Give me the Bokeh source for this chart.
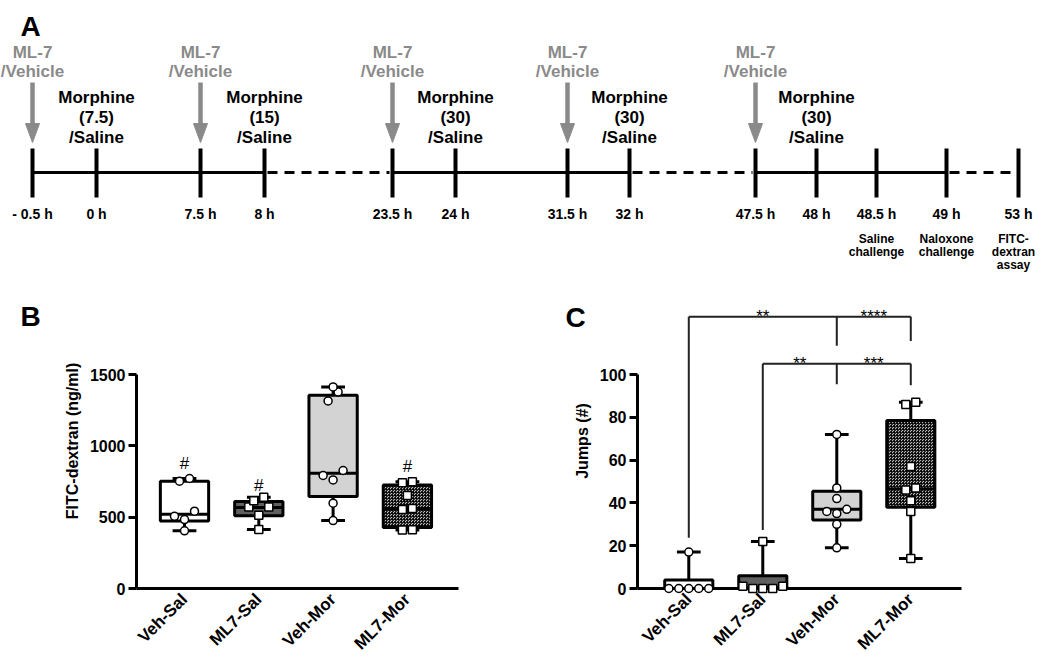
import math
from bokeh.plotting import figure
from bokeh.layouts import column, row
from bokeh.models import Range1d, FixedTicker
from bokeh.core.properties import value
from bokeh.embed import file_html
from bokeh.resources import INLINE

FONT = "Liberation Sans"

# ---------------- data ----------------
groups = ["Veh-Sal", "ML7-Sal", "Veh-Mor", "ML7-Mor"]
group_markers = ["circle", "square", "circle", "square"]

# Panel B: FITC-dextran (ng/ml)
fitc_veh_sal = [404, 483, 506, 542, 752, 771]
fitc_ml7_sal = [413, 514, 572, 572, 615, 640]
fitc_veh_mor = [476, 598, 761, 792, 827, 1315, 1378, 1413]
fitc_ml7_mor = [410, 412, 553, 560, 652, 742, 748]
fitc_min = [404, 413, 476, 410]
fitc_q1 = [473, 510, 645, 428]
fitc_median = [520, 568, 808, 560]
fitc_q3 = [752, 610, 1355, 725]
fitc_max = [771, 640, 1413, 748]
fitc_ticks = [0, 500, 1000, 1500]
fitc_hash_groups = [0, 1, 3]
fitc_hash_y = [873, 724, 857]

# Panel C: jumps
jumps_veh_sal = [0, 0, 0, 0, 0, 17]
jumps_ml7_sal = [0, 0, 0, 1, 1, 22]
jumps_veh_mor = [19, 30, 35, 36, 37, 42, 47, 72]
jumps_ml7_mor = [14, 36, 41, 46, 47, 57, 86, 87]
jumps_min = [0, 0, 19, 14]
jumps_q1 = [0, 0, 32, 38]
jumps_median = [0, 0.5, 37, 46.5]
jumps_q3 = [4, 6, 45.5, 78.5]
jumps_max = [17, 22, 72, 87]
jumps_ticks = [0, 20, 40, 60, 80, 100]
br_groups = [[0, 2, 3], [1, 2, 3]]
br_y = [127, 105]
br_leg_end = [[23.7, 113.4, 115.6], [27.3, 95.5, 95.0]]
br_stars = [["**", "****"], ["**", "***"]]

# Panel A: timeline
tl_labels = ["- 0.5 h", "0 h", "7.5 h", "8 h", "23.5 h", "24 h", "31.5 h", "32 h",
             "47.5 h", "48 h", "48.5 h", "49 h", "53 h"]
tl_dashed_after = [3, 7, 11]
ml7_idx = [0, 2, 4, 6, 8]
mor_idx = [1, 3, 5, 7, 9]
mor_dose = ["(7.5)", "(15)", "(30)", "(30)", "(30)"]
event_idx = [10, 11, 12]
event_text = [["Saline", "challenge"], ["Naloxone", "challenge"], ["FITC-", "dextran", "assay"]]

# ---------------- layout constants (pixels) ----------------
tl_x = [32, 96, 200, 264, 392, 455, 567, 629, 755, 816, 876, 946, 1018]
LINE_Y, TICK_TOP, TICK_BOT = 172, 148, 197
GRAY = "#8a8a8a"

W, H = 1050, 666
A_H = 283
ROW_H = H - A_H
PX_CAT = 74.3
BOX_W = 0.65
CAP_W = 0.16
FRAME_TOP, FRAME_BOT = 293, 588          # shared by panels B and C
ROW_T = FRAME_TOP - A_H
ROW_B = H - FRAME_BOT
FH = FRAME_BOT - FRAME_TOP


def base_fig(width, height, xr, yr, **kw):
    p = figure(width=width, height=height, x_range=xr, y_range=yr,
               output_backend="svg", toolbar_location=None, **kw)
    p.xgrid.visible = False
    p.ygrid.visible = False
    p.outline_line_color = None
    p.background_fill_color = "white"
    p.border_fill_color = "white"
    return p


def panel_letter(p, x, y, letter):
    p.text(x=[x], y=[y], text=[letter], text_font=value(FONT), text_font_style="bold",
           text_font_size="28px", text_color="black", text_align="left",
           text_baseline="alphabetic", level="overlay")


# ---------------- Panel A ----------------
pa = base_fig(W, A_H, Range1d(0, W), Range1d(A_H, 0),
              x_axis_type=None, y_axis_type=None,
              min_border_left=0, min_border_right=0, min_border_top=0, min_border_bottom=0)

sx0, sx1, dx0, dx1 = [], [], [], []
for i in range(len(tl_x) - 1):
    if i in tl_dashed_after:
        dx0.append(tl_x[i] + 3); dx1.append(tl_x[i + 1] - 3)
    else:
        sx0.append(tl_x[i]); sx1.append(tl_x[i + 1])
pa.segment(x0=sx0, x1=sx1, y0=[LINE_Y] * len(sx0), y1=[LINE_Y] * len(sx0),
           line_color="black", line_width=3)
pa.segment(x0=dx0, x1=dx1, y0=[LINE_Y] * len(dx0), y1=[LINE_Y] * len(dx0),
           line_color="black", line_width=3, line_dash="10 7")
pa.segment(x0=tl_x, x1=tl_x, y0=[TICK_TOP] * len(tl_x), y1=[TICK_BOT] * len(tl_x),
           line_color="black", line_width=4)

txt = dict(text_font=value(FONT), text_font_style="bold", text_align="center",
           text_baseline="middle")
pa.text(x=tl_x, y=[213] * len(tl_x), text=tl_labels, text_font_size="14px", **txt)

ax = [tl_x[i] for i in ml7_idx]
pa.text(x=ax, y=[52] * len(ax), text=["ML-7"] * len(ax), text_font_size="17px",
        text_color=GRAY, **txt)
pa.text(x=ax, y=[71] * len(ax), text=["/Vehicle"] * len(ax), text_font_size="17px",
        text_color=GRAY, **txt)
pa.segment(x0=ax, x1=ax, y0=[82] * len(ax), y1=[126] * len(ax), line_color=GRAY, line_width=4.5)
pa.patches(xs=[[x - 7, x + 7, x] for x in ax], ys=[[123, 123, 142] for _ in ax],
           fill_color=GRAY, line_color=GRAY, line_width=1)

mx = [tl_x[i] for i in mor_idx]
pa.text(x=mx, y=[97] * len(mx), text=["Morphine"] * len(mx), text_font_size="17px", **txt)
pa.text(x=mx, y=[117] * len(mx), text=mor_dose, text_font_size="17px", **txt)
pa.text(x=mx, y=[137] * len(mx), text=["/Saline"] * len(mx), text_font_size="17px", **txt)

for i, lines in zip(event_idx, event_text):
    x = tl_x[i] - (5 if i == 12 else 0)
    pa.text(x=[x] * len(lines), y=[238 + 13 * k for k in range(len(lines))], text=lines,
            text_font_size="12px", **txt)

panel_letter(pa, 20, 26, "A")


# ---------------- box plot helpers ----------------
def swarm(vals, ppu, thr=10.0, spacing=10.0):
    order = sorted(range(len(vals)), key=lambda i: vals[i])
    bins = []
    for i in order:
        if bins and (vals[i] - vals[bins[-1][0]]) * ppu < thr:
            bins[-1].append(i)
        else:
            bins.append([i])
    offs = [0.0] * len(vals)
    for b in bins:
        n = len(b)
        if n % 2:
            slots = [0] + [s for k in range(1, n) for s in (-k, k)]
        else:
            slots = [s for k in range(n) for s in (-(k + 0.5), k + 0.5)]
        for k, i in enumerate(b):
            offs[i] = slots[k] * spacing / PX_CAT
    return offs


def style_axes(p, ticks, ylabel):
    for a in (p.xaxis[0], p.yaxis[0]):
        a.axis_line_width = 3
        a.axis_line_color = "black"
        a.major_label_text_font = FONT
        a.major_label_text_font_style = "bold"
        a.major_label_text_font_size = "16px"
        a.major_label_text_color = "black"
        a.minor_tick_line_color = None
        a.major_tick_in = 0
    p.yaxis.ticker = FixedTicker(ticks=ticks)
    p.yaxis.bounds = (ticks[0], ticks[-1])
    p.yaxis.major_tick_out = 8
    p.yaxis.major_tick_line_width = 3
    p.yaxis.major_tick_line_color = "black"
    p.yaxis.major_label_standoff = 3
    p.yaxis.axis_label = ylabel
    p.yaxis.axis_label_text_font = FONT
    p.yaxis.axis_label_text_font_style = "bold"
    p.yaxis.axis_label_text_font_size = "16px"
    p.yaxis.axis_label_text_color = "black"
    p.yaxis.axis_label_standoff = 6
    p.xaxis.ticker = FixedTicker(ticks=[0, 1, 2, 3])
    p.xaxis.major_label_overrides = {i: g for i, g in enumerate(groups)}
    p.xaxis.major_tick_line_color = None
    p.xaxis.major_tick_out = 0
    p.xaxis.major_label_orientation = math.pi / 4
    p.xaxis.major_label_text_font_size = "17px"
    p.xaxis.major_label_standoff = 8


def draw_boxes(p, series, mins, q1s, meds, q3s, maxs, ppu):
    xs = list(range(4))
    p.segment(x0=xs, x1=xs, y0=q3s, y1=maxs, line_color="black", line_width=3)
    p.segment(x0=xs, x1=xs, y0=q1s, y1=mins, line_color="black", line_width=3)
    p.segment(x0=[x - CAP_W for x in xs], x1=[x + CAP_W for x in xs], y0=maxs, y1=maxs,
              line_color="black", line_width=3)
    p.segment(x0=[x - CAP_W for x in xs], x1=[x + CAP_W for x in xs], y0=mins, y1=mins,
              line_color="black", line_width=3)
    p.vbar(x=[0, 2], width=BOX_W, bottom=[q1s[0], q1s[2]], top=[q3s[0], q3s[2]],
           fill_color=["white", "#d3d3d3"], line_color="black", line_width=3)
    p.vbar(x=[1], width=BOX_W, bottom=[q1s[1]], top=[q3s[1]],
           fill_color="#5f5f5f", line_color="black", line_width=3)
    p.vbar(x=[3], width=BOX_W, bottom=[q1s[3]], top=[q3s[3]],
           fill_color="#bcbcbc", hatch_pattern="criss_cross", hatch_color="black",
           hatch_scale=3, hatch_weight=1, hatch_alpha=0.8,
           line_color="black", line_width=3)
    p.segment(x0=[x - BOX_W / 2 for x in xs], x1=[x + BOX_W / 2 for x in xs], y0=meds, y1=meds,
              line_color="black", line_width=3)
    for gi, vals in enumerate(series):
        offs = swarm(vals, ppu)
        p.scatter(x=[gi + o for o in offs], y=vals, marker=group_markers[gi], size=8,
                  fill_color="white", line_color="black", line_width=1.5, level="overlay")


# ---------------- Panel B ----------------
B_W = 556
B_L, B_FW = 136, 322
B_R = B_W - B_L - B_FW
B_X0 = -0.646
ppu_b = 214 / 1500.0
pb = base_fig(B_W, ROW_H, Range1d(B_X0, B_X0 + B_FW / PX_CAT), Range1d(0, FH / ppu_b),
              min_border_left=B_L, min_border_right=B_R, min_border_top=ROW_T,
              min_border_bottom=ROW_B)
style_axes(pb, fitc_ticks, "FITC-dextran (ng/ml)")
draw_boxes(pb, [fitc_veh_sal, fitc_ml7_sal, fitc_veh_mor, fitc_ml7_mor],
           fitc_min, fitc_q1, fitc_median, fitc_q3, fitc_max, ppu_b)
pb.text(x=fitc_hash_groups, y=fitc_hash_y, text=["#"] * len(fitc_hash_groups),
        text_font=value(FONT), text_font_size="17px", text_align="center",
        text_baseline="middle")
panel_letter(pb, B_X0 + (20 - B_L) / PX_CAT, (FRAME_BOT - 316) / ppu_b, "B")

# ---------------- Panel C ----------------
C_W = W - B_W
C_L, C_FW = 637 - B_W, 324
C_R = C_W - C_L - C_FW
C_PX_CAT = 74.0
ppu_c = 2.14
C_X0 = -0.693
pc = base_fig(C_W, ROW_H, Range1d(C_X0, C_X0 + C_FW / C_PX_CAT), Range1d(0, FH / ppu_c),
              min_border_left=C_L, min_border_right=C_R, min_border_top=ROW_T,
              min_border_bottom=ROW_B)
style_axes(pc, jumps_ticks, "Jumps (#)")
draw_boxes(pc, [jumps_veh_sal, jumps_ml7_sal, jumps_veh_mor, jumps_ml7_mor],
           jumps_min, jumps_q1, jumps_median, jumps_q3, jumps_max, ppu_c * C_PX_CAT / PX_CAT)
for gs, yb, legs, stars in zip(br_groups, br_y, br_leg_end, br_stars):
    pc.segment(x0=[gs[0]], x1=[gs[-1]], y0=[yb], y1=[yb], line_color="#222222", line_width=2)
    pc.segment(x0=gs, x1=gs, y0=[yb] * len(gs), y1=legs, line_color="#222222", line_width=2)
    mids = [(gs[k] + gs[k + 1]) / 2 for k in range(len(gs) - 1)]
    pc.text(x=mids, y=[yb + 0.3] * len(mids), text=stars, text_font=value(FONT),
            text_font_size="17px", text_align="center", text_baseline="alphabetic")
panel_letter(pc, C_X0 + (565 - 637) / C_PX_CAT, (FRAME_BOT - 317) / ppu_c, "C")

layout = column(pa, row(pb, pc, spacing=0), spacing=0)
open("out.html", "w").write(file_html(layout, INLINE))
